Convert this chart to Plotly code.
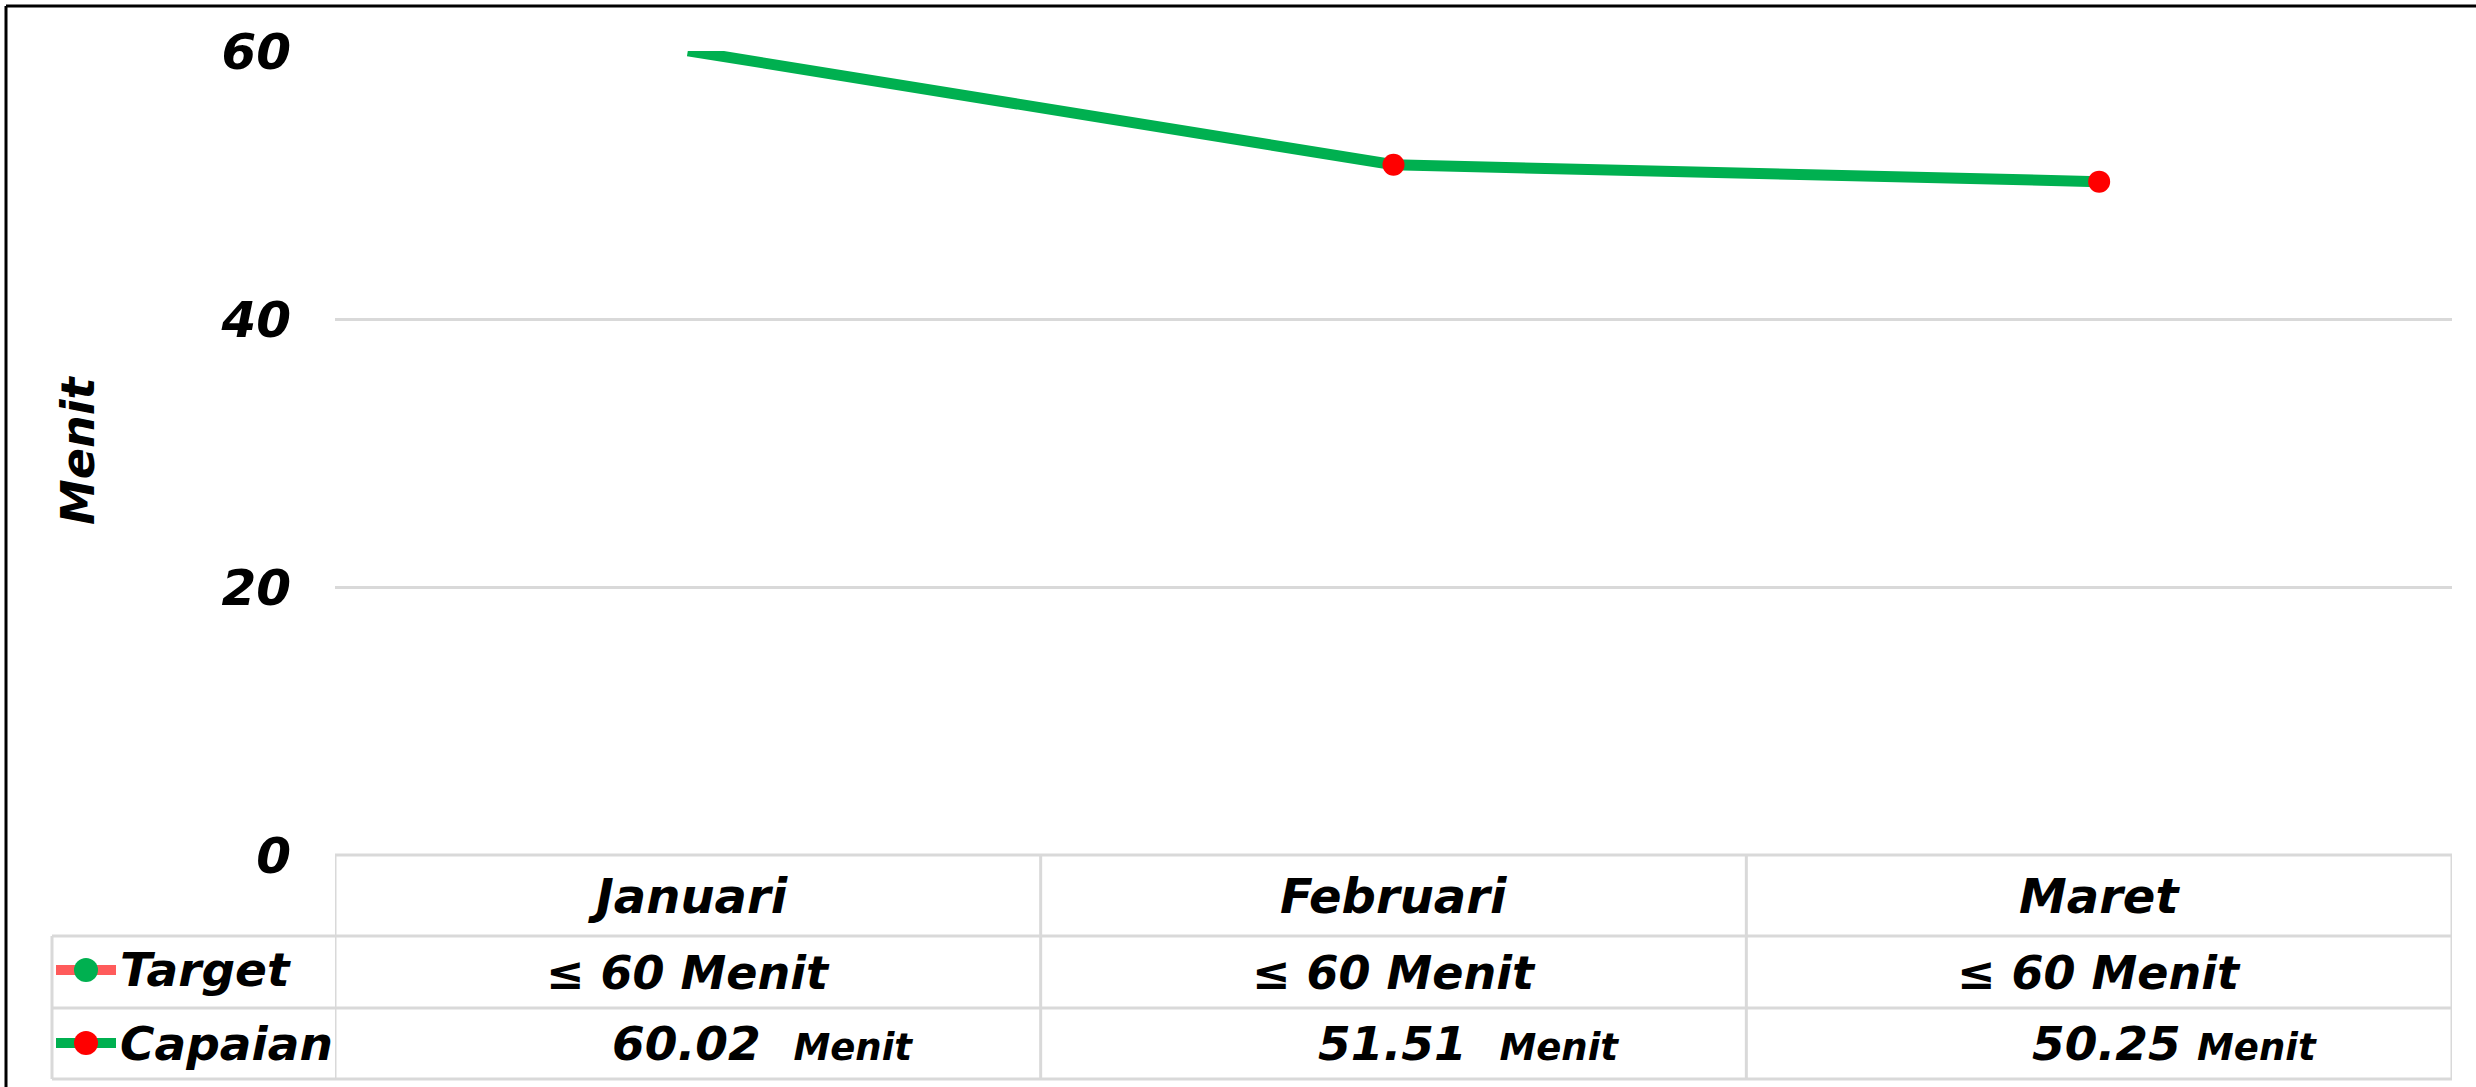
import plotly.graph_objects as go

# ---- data ----
months = ["Januari", "Februari", "Maret"]
target_labels = ["≤ 60 Menit", "≤ 60 Menit", "≤ 60 Menit"]
capaian = [60.02, 51.51, 50.25]
capaian_units = ["Menit", "Menit", "Menit"]
series_names = ["Target", "Capaian"]
y_ticks = [0, 20, 40, 60]
y_title = "Menit"

# ---- layout constants (pixels) ----
W, H = 2476, 1087
L, R, T, B = 335, 24, 51, 232
PW, PH = W - L - R, H - T - B
FONT = "DejaVu Sans"
GREEN = "#00B050"
RED = "#FF0000"
SALMON = "#FF5B5B"
GRID = "#D9D9D9"

def px(x):
    return (x - L) / PW

def py(y):
    return (H - B - y) / PH

y_max = max(y_ticks)

fig = go.Figure()
fig.add_trace(go.Scatter(
    x=months, y=capaian, mode="lines+markers", name=series_names[1],
    line=dict(color=GREEN, width=11),
    marker=dict(color=RED, size=22,
                opacity=[0 if v > y_max else 1 for v in capaian]),
    showlegend=False, cliponaxis=True,
))

fnt = dict(family=FONT, color="black", weight="bold", style="italic")

shapes = []
annotations = []

# outer border (top + left)
shapes.append(dict(type="line", xref="paper", yref="paper",
                   x0=px(6), x1=px(W), y0=py(6), y1=py(6),
                   line=dict(color="black", width=3)))
shapes.append(dict(type="line", xref="paper", yref="paper",
                   x0=px(6), x1=px(6), y0=py(6), y1=py(H),
                   line=dict(color="black", width=3)))

# data table
row_top = [855, 936, 1008]
row_bot = 1079
leg_left = 52
tl = dict(color=GRID, width=3)
# horizontal lines
shapes.append(dict(type="line", xref="paper", yref="paper",
                   x0=0, x1=1, y0=py(row_top[0]), y1=py(row_top[0]), line=tl))
for yy in row_top[1:] + [row_bot]:
    shapes.append(dict(type="line", xref="paper", yref="paper",
                       x0=px(leg_left), x1=1, y0=py(yy), y1=py(yy), line=tl))
# vertical lines
for i in range(len(months) + 1):
    shapes.append(dict(type="line", xref="x", yref="paper",
                       x0=i - 0.5, x1=i - 0.5, y0=py(row_top[0]), y1=py(row_bot), line=tl))
shapes.append(dict(type="line", xref="paper", yref="paper",
                   x0=px(leg_left), x1=px(leg_left), y0=py(row_top[1]), y1=py(row_bot), line=tl))

hdr_y = (row_top[0] + row_top[1]) / 2
tgt_y = (row_top[1] + row_top[2]) / 2 + 1
cap_y = (row_top[2] + row_bot) / 2

for i, m in enumerate(months):
    annotations.append(dict(x=m, xref="x", y=py(hdr_y), yref="paper", text=m,
                            showarrow=False, font=dict(size=48, **fnt),
                            xanchor="center", yanchor="middle"))
    annotations.append(dict(x=m, xref="x", y=py(tgt_y), yref="paper", text=target_labels[i],
                            showarrow=False, font=dict(size=46, **fnt),
                            xanchor="center", yanchor="middle"))
    sep = "&nbsp;&nbsp;" if i < 2 else "&nbsp;"
    annotations.append(dict(x=m, xref="x", y=py(cap_y), yref="paper",
                            text=f"{capaian[i]:.2f}{sep}<span style='font-size:37px'>{capaian_units[i]}</span>",
                            showarrow=False, font=dict(size=47, **fnt),
                            xanchor="center", yanchor="middle", xshift=75))

# legend keys
key_x0, key_x1, key_xc = 56, 116, 86
for name, yy, lc, mc in [(series_names[0], 970, SALMON, GREEN),
                         (series_names[1], 1043, GREEN, RED)]:
    shapes.append(dict(type="line", xref="paper", yref="paper",
                       x0=px(key_x0), x1=px(key_x1), y0=py(yy), y1=py(yy),
                       line=dict(color=lc, width=10)))
    shapes.append(dict(type="circle", xref="paper", yref="paper",
                       x0=px(key_xc - 12), x1=px(key_xc + 12),
                       y0=py(yy - 12), y1=py(yy + 12),
                       fillcolor=mc, line=dict(width=0)))
    annotations.append(dict(x=px(118), xref="paper", y=py(yy), yref="paper", text=name,
                            showarrow=False, font=dict(size=47, **fnt),
                            xanchor="left", yanchor="middle"))

# y-axis title
annotations.append(dict(x=px(78), xref="paper", y=py(451), yref="paper", text=y_title,
                        textangle=-90, showarrow=False, font=dict(size=46, **fnt),
                        xanchor="center", yanchor="middle"))

fig.update_layout(
    width=W, height=H,
    margin=dict(l=L, r=R, t=T, b=B, pad=0),
    paper_bgcolor="white", plot_bgcolor="white",
    xaxis=dict(type="category", range=[-0.5, len(months) - 0.5],
               showgrid=False, showticklabels=False, zeroline=False,
               showline=False, ticks=""),
    yaxis=dict(range=[0, y_max], tickvals=y_ticks, showgrid=True,
               gridcolor=GRID, gridwidth=3, zeroline=False, showline=False,
               ticks="", ticklabelstandoff=43,
               tickfont=dict(size=50, **fnt)),
    shapes=shapes, annotations=annotations,
    showlegend=False,
)

fig.write_html(
    "out.html",
    config={"displayModeBar": False},
    post_script="document.body.style.margin='0';document.body.style.overflow='hidden';",
)
